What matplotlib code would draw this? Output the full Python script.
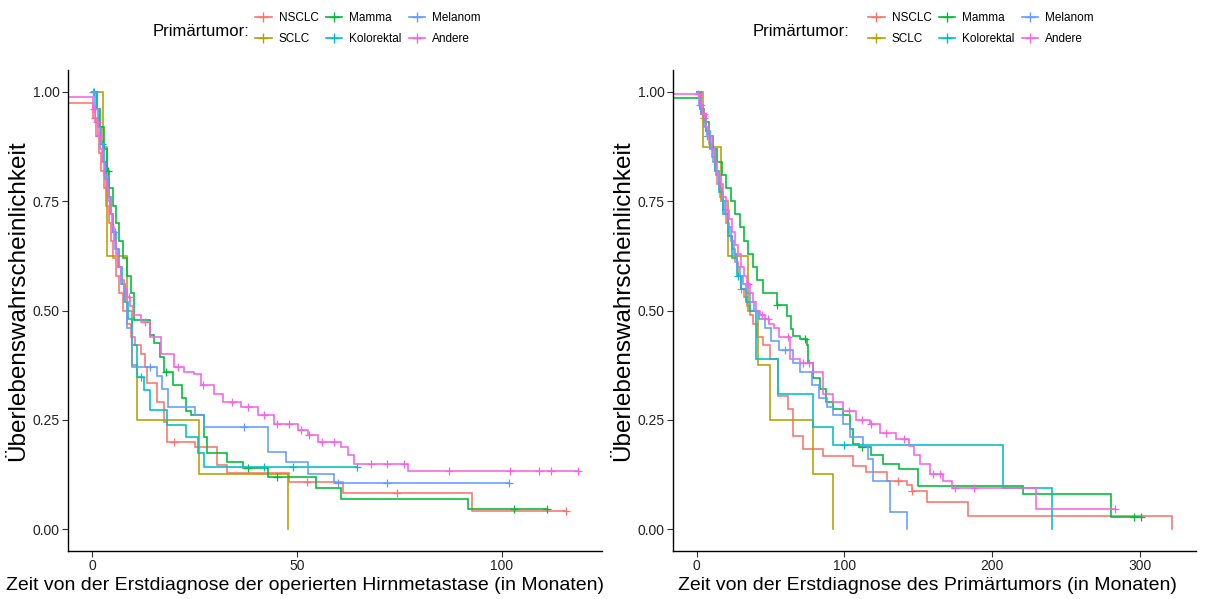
import numpy as np
import matplotlib
matplotlib.use('Agg')
import matplotlib.pyplot as plt
from matplotlib.lines import Line2D

plt.rcParams['font.family'] = ['Liberation Sans', 'DejaVu Sans']

groups = ['NSCLC', 'SCLC', 'Mamma', 'Kolorektal', 'Melanom', 'Andere']
colors = ['#F8766D', '#B79F00', '#00BA38', '#00BFC4', '#619CFF', '#F564E3']

# ---- left panel: time since diagnosis of the operated brain metastasis ----
nsclc_a_t = [-5.9, 0.3, 1, 1.6, 2.2, 2.8, 3.4, 4, 4.6, 5.2, 5.8, 6.6, 7.5, 8.5, 9.5, 10.5, 11.8, 12.8,
             13.4, 15.9, 17.5, 18.3, 25.2, 30.5, 33, 48, 61.2, 92.6]
nsclc_a_s = [0.974, 0.94, 0.9, 0.86, 0.82, 0.78, 0.74, 0.70, 0.66, 0.62, 0.58, 0.54, 0.5, 0.47, 0.44, 0.42,
             0.4, 0.37, 0.334, 0.29, 0.245, 0.2, 0.188, 0.146, 0.128, 0.108, 0.083, 0.041]
nsclc_a_end = 115.5
nsclc_a_cens = [0.6, 20, 52.5, 74.3, 115.5]

sclc_a_t = [0, 2.6, 3.7, 8.5, 9.7, 11, 26, 47.7]
sclc_a_s = [1, 0.875, 0.625, 0.5, 0.375, 0.25, 0.125, 0]
sclc_a_end = 47.7
sclc_a_cens = []

mamma_a_t = [0, 1.2, 2, 2.8, 3.5, 4.2, 5, 5.8, 6.6, 7.5, 8.5, 9.5, 10.2, 14.2, 15, 16.5, 17.5, 19.6, 22,
             22.8, 24, 27.2, 28, 33, 36.7, 42.8, 54.7, 60.8, 91.8]
mamma_a_s = [1, 0.96, 0.92, 0.87, 0.82, 0.78, 0.74, 0.70, 0.66, 0.62, 0.58, 0.54, 0.478, 0.444, 0.425,
             0.394, 0.36, 0.33, 0.30, 0.27, 0.26, 0.21, 0.174, 0.154, 0.139, 0.12, 0.094, 0.069, 0.045]
mamma_a_end = 111
mamma_a_cens = [3.9, 18, 38, 45, 103, 111]

kolo_a_t = [0, 1.1, 1.6, 2.2, 2.8, 3.4, 4, 4.6, 5.2, 5.8, 6.5, 7.2, 8, 8.8, 9.8, 11, 12.6, 14.2, 18.3,
            22.8, 25.7, 27.3]
kolo_a_s = [1, 0.96, 0.92, 0.88, 0.84, 0.80, 0.76, 0.72, 0.68, 0.64, 0.60, 0.56, 0.52, 0.48, 0.42,
            0.349, 0.318, 0.272, 0.238, 0.211, 0.173, 0.143]
kolo_a_end = 64.5
kolo_a_cens = [0.5, 2.5, 12, 42, 49, 64.5]

melanom_a_t = [0, 0.8, 1.4, 2, 2.6, 3.2, 3.8, 4.4, 5, 5.6, 6.2, 7, 7.8, 8.6, 9.8, 15.8, 17, 18.6, 25.2,
               27.3, 42.8, 47.3, 52.6, 59]
melanom_a_s = [1, 0.96, 0.92, 0.88, 0.84, 0.80, 0.76, 0.72, 0.68, 0.64, 0.60, 0.56, 0.52, 0.46, 0.37,
               0.35, 0.32, 0.28, 0.26, 0.234, 0.177, 0.154, 0.127, 0.105]
melanom_a_end = 101.6
melanom_a_cens = [0.2, 5.5, 14, 37, 60, 72, 101.6]

andere_a_t = [-5.9, 0.3, 0.8, 1.3, 1.8, 2.3, 2.8, 3.3, 3.8, 4.3, 4.8, 5.3, 5.8, 6.4, 7, 7.7, 8.4, 9.2, 10,
              11.8, 14.2, 16.7, 19.9, 22.3, 24.8, 26.5, 29.7, 32, 36.3, 40.4, 44.4, 50.2, 52.6, 55, 60.8,
              62.5, 64, 77.1]
andere_a_s = [0.988, 0.96, 0.93, 0.90, 0.87, 0.84, 0.81, 0.78, 0.75, 0.72, 0.69, 0.66, 0.63, 0.60, 0.57,
              0.55, 0.53, 0.51, 0.49, 0.474, 0.44, 0.40, 0.37, 0.36, 0.355, 0.33, 0.31, 0.29, 0.28, 0.26,
              0.24, 0.226, 0.215, 0.2, 0.188, 0.169, 0.15, 0.133]
andere_a_end = 118.5
andere_a_cens = [0.4, 0.7, 1.1, 1.6, 9, 13, 21, 27, 34, 38, 42, 45, 48, 51, 53, 56, 59, 68, 72, 76, 87,
                 102, 109, 112, 118.5]

# ---- right panel: time since diagnosis of the primary tumour ----
nsclc_b_t = [0, 2, 4, 6, 8, 10, 12, 14, 16, 18, 20, 22, 24, 26, 28, 30, 32, 34, 36, 38, 41, 45, 49.4, 55,
             61.8, 65, 71.8, 85.3, 105.6, 114.9, 128.7, 142, 146, 156, 183.5, 322]
nsclc_b_s = [1, 0.97, 0.94, 0.91, 0.88, 0.85, 0.82, 0.79, 0.76, 0.73, 0.70, 0.67, 0.64, 0.61, 0.58, 0.55,
             0.53, 0.51, 0.49, 0.47, 0.44, 0.42, 0.389, 0.305, 0.275, 0.213, 0.183, 0.168, 0.145, 0.13,
             0.11, 0.10, 0.088, 0.061, 0.029, 0]
nsclc_b_end = 322
nsclc_b_cens = [5, 30, 136, 146]

sclc_b_t = [0, 4, 16.7, 21, 34.6, 41.3, 49.4, 78.7, 92.2]
sclc_b_s = [1, 0.875, 0.75, 0.625, 0.5, 0.375, 0.25, 0.125, 0]
sclc_b_end = 92.2
sclc_b_cens = []

mamma_b_t = [-16.1, 2, 5, 8, 11, 14, 17, 20, 23, 26, 29, 32, 35, 38, 41, 45, 54, 61.4, 63.7, 65.2, 69.7,
             74.3, 75, 78.6, 83.3, 87.8, 92.3, 99, 103.6, 105.8, 110, 118, 126, 137, 150, 221, 280.7]
mamma_b_s = [0.985, 0.96, 0.93, 0.90, 0.87, 0.84, 0.81, 0.78, 0.75, 0.72, 0.69, 0.66, 0.63, 0.60, 0.57,
             0.54, 0.513, 0.488, 0.457, 0.442, 0.435, 0.42, 0.38, 0.345, 0.32, 0.29, 0.275, 0.26, 0.23,
             0.195, 0.187, 0.17, 0.15, 0.137, 0.099, 0.08, 0.027]
mamma_b_end = 301
mamma_b_cens = [54, 73, 112, 296, 301]

kolo_b_t = [0, 3, 6, 9, 12, 15, 18, 21, 24, 27, 30, 33, 36, 40.4, 55, 78.5, 92, 207, 240.8]
kolo_b_s = [1, 0.95, 0.91, 0.87, 0.82, 0.77, 0.72, 0.67, 0.62, 0.58, 0.55, 0.52, 0.50, 0.39, 0.309,
            0.233, 0.193, 0.095, 0]
kolo_b_end = 240.8
kolo_b_cens = [28, 100]

melanom_b_t = [0, 1.5, 3, 5, 7, 9, 11, 13, 15, 17, 19, 21, 23, 25, 27, 29, 31, 33, 36, 39, 42, 46, 50, 56,
               65, 70, 78, 83, 88, 92, 99, 104, 112.5, 116, 119.4, 130.7, 142]
melanom_b_s = [1, 0.97, 0.95, 0.92, 0.90, 0.87, 0.84, 0.81, 0.78, 0.75, 0.72, 0.69, 0.66, 0.63, 0.60,
               0.58, 0.56, 0.54, 0.52, 0.50, 0.48, 0.46, 0.43, 0.41, 0.38, 0.36, 0.33, 0.30, 0.28, 0.26,
               0.24, 0.21, 0.19, 0.16, 0.11, 0.04, 0]
melanom_b_end = 142
melanom_b_cens = [2, 7, 60]

andere_b_t = [-16.1, 2, 4, 6, 8, 10, 12, 14, 16, 18, 20, 22, 24, 26, 28, 30, 32, 34, 36, 38, 40, 43, 46,
              49, 52, 56, 63, 69.7, 78.6, 85.5, 92, 99, 108, 117, 124, 135, 144, 147, 151, 158, 167, 173,
              230]
andere_b_s = [0.995, 0.97, 0.95, 0.92, 0.90, 0.87, 0.84, 0.81, 0.79, 0.76, 0.73, 0.71, 0.68, 0.65, 0.63,
              0.60, 0.58, 0.56, 0.54, 0.52, 0.50, 0.49, 0.48, 0.47, 0.46, 0.44, 0.39, 0.38, 0.36, 0.31,
              0.29, 0.27, 0.25, 0.24, 0.22, 0.207, 0.19, 0.17, 0.15, 0.126, 0.11, 0.095, 0.046]
andere_b_end = 283
andere_b_cens = [1, 3, 5, 35, 44, 48, 62, 72, 76, 103, 112, 118, 128, 140, 160, 165, 175, 188, 283]

left_curves = [
    (nsclc_a_t, nsclc_a_s, nsclc_a_end, nsclc_a_cens),
    (sclc_a_t, sclc_a_s, sclc_a_end, sclc_a_cens),
    (mamma_a_t, mamma_a_s, mamma_a_end, mamma_a_cens),
    (kolo_a_t, kolo_a_s, kolo_a_end, kolo_a_cens),
    (melanom_a_t, melanom_a_s, melanom_a_end, melanom_a_cens),
    (andere_a_t, andere_a_s, andere_a_end, andere_a_cens),
]
right_curves = [
    (nsclc_b_t, nsclc_b_s, nsclc_b_end, nsclc_b_cens),
    (sclc_b_t, sclc_b_s, sclc_b_end, sclc_b_cens),
    (mamma_b_t, mamma_b_s, mamma_b_end, mamma_b_cens),
    (kolo_b_t, kolo_b_s, kolo_b_end, kolo_b_cens),
    (melanom_b_t, melanom_b_s, melanom_b_end, melanom_b_cens),
    (andere_b_t, andere_b_s, andere_b_end, andere_b_cens),
]

yticks = [0, 0.25, 0.5, 0.75, 1.0]
ytick_labels = ['0.00', '0.25', '0.50', '0.75', '1.00']
ylabel = 'Überlebenswahrscheinlichkeit'
xlabel_left = 'Zeit von der Erstdiagnose der operierten Hirnmetastase (in Monaten)'
xlabel_right = 'Zeit von der Erstdiagnose des Primärtumors (in Monaten)'


def km(ax, t, s, end, cens, color):
    tt = list(t) + [end]
    ss = list(s) + [s[-1]]
    ax.step(tt, ss, where='post', color=color, lw=1.15, solid_joinstyle='miter')
    if cens:
        c = np.array(cens)
        idx = np.searchsorted(np.array(t), c, side='right') - 1
        ax.plot(c, np.array(s)[idx], '+', color=color, ms=6, mew=0.9, ls='none')


def style(ax, xlim, xticks, xlabel, xlab_x, ylab_x):
    ax.set_xlim(*xlim)
    ax.set_ylim(-0.05, 1.05)
    ax.set_xticks(xticks)
    ax.set_yticks(yticks)
    ax.set_yticklabels(ytick_labels)
    for side in ['top', 'right']:
        ax.spines[side].set_visible(False)
    for side in ['left', 'bottom']:
        ax.spines[side].set_linewidth(1.0)
        ax.spines[side].set_color('black')
    ax.tick_params(length=4, width=0.8, color='#333333', labelsize=10, labelcolor='#222222', pad=2)
    ax.set_ylabel(ylabel, fontsize=17.5)
    ax.set_xlabel(xlabel, fontsize=14)
    ax.yaxis.set_label_coords(ylab_x, 0.52)
    ax.xaxis.set_label_coords(xlab_x, -0.054)


fig = plt.figure(figsize=(12.06, 5.99), dpi=100)
ax1 = fig.add_axes([68 / 1206, 48 / 599, 534 / 1206, 481 / 599])
ax2 = fig.add_axes([673 / 1206, 48 / 599, 523 / 1206, 481 / 599])

for (t, s, end, cens), col in zip(left_curves, colors):
    km(ax1, t, s, end, cens, col)
for (t, s, end, cens), col in zip(right_curves, colors):
    km(ax2, t, s, end, cens, col)

style(ax1, (-5.9, 124.4), [0, 50, 100], xlabel_left, 0.444, -0.072)
style(ax2, (-16.1, 338), [0, 100, 200, 300], xlabel_right, 0.486, -0.074)

handles = [Line2D([], [], color=c, lw=1.2, marker='+', ms=7, mew=1.0) for c in colors]
for lx, tx in [(255, 153), (868, 753)]:
    fig.text(tx / 1206, 1 - 31 / 599, 'Primärtumor:', fontsize=12, va='center', ha='left')
    fig.legend(handles, groups, ncol=3, loc='center left', bbox_to_anchor=(lx / 1206, 1 - 28.5 / 599),
               frameon=False, fontsize=8.5, handlelength=1.4, handletextpad=0.6, columnspacing=0.6,
               labelspacing=0.75, borderpad=0, borderaxespad=0)

fig.savefig('out.png', dpi=100)
